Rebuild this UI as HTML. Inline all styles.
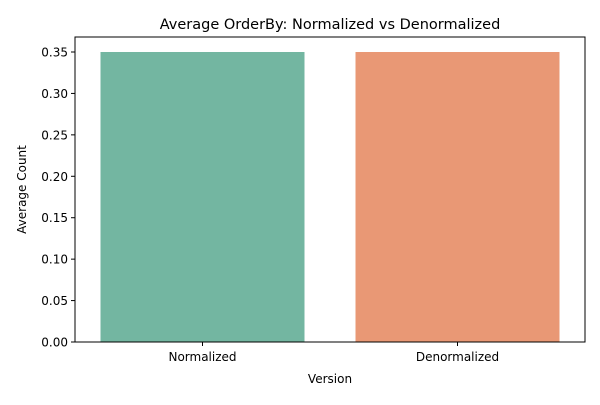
<!DOCTYPE html>
<html><head><meta charset="utf-8"><style>
body{margin:0;background:#fff;font-family:"Liberation Sans","DejaVu Sans",sans-serif;}
</style></head><body>
<svg id="chart" width="600" height="400" xmlns="http://www.w3.org/2000/svg" font-family="DejaVu Sans, Liberation Sans, sans-serif"></svg>
<script>
const categories = ["Normalized", "Denormalized"];
const values = [0.35, 0.35];
const colors = ["#73b6a1", "#e99875"];
const yTicks = [0, 0.05, 0.10, 0.15, 0.20, 0.25, 0.30, 0.35];
const yTickLabels = ["0.00","0.05","0.10","0.15","0.20","0.25","0.30","0.35"];

const svg = document.getElementById('chart');
const NS = "http://www.w3.org/2000/svg";
const L = 75, R = 585, T = 37, B = 342;
const y = v => B - v / 0.35 * 290;
const band = (R - L) / categories.length;
const x = i => L + band * i;
function mk(tag, attrs, text) {
  const e = document.createElementNS(NS, tag);
  for (const k in attrs) e.setAttribute(k, attrs[k]);
  if (text !== undefined) e.textContent = text;
  svg.appendChild(e);
  return e;
}
values.forEach((v, i) => {
  const r = mk('rect', {x: x(i) + band * 0.1, y: y(v), width: band * 0.8, height: B - y(v), fill: colors[i]});
  
  
  const t = mk('line', {x1: x(i) + band / 2, x2: x(i) + band / 2, y1: B, y2: B + 4, stroke: '#000'});
  
  
  const l = mk('text', {x: x(i) + band / 2, y: B + 19, 'text-anchor': 'middle', 'font-size': 12}, categories[i]);
  
  
});
yTicks.forEach((v, i) => {
  const t = mk('line', {x1: L - 4, x2: L, y1: y(v), y2: y(v), stroke: '#000'});
  
  
  const l = mk('text', {x: L - 7, y: y(v) + 4.5, 'text-anchor': 'end', 'font-size': 12}, yTickLabels[i]);
  
  
});
const frame = mk('rect', {x: L, y: T, width: R - L, height: B - T, fill: 'none', stroke: '#000', 'stroke-width': 1});


const title = mk('text', {x: (L + R) / 2, y: 29, 'text-anchor': 'middle', 'font-size': 14.5}, 'Average OrderBy: Normalized vs Denormalized');


const xt = mk('text', {x: (L + R) / 2, y: 383, 'text-anchor': 'middle', 'font-size': 12}, 'Version');


const yt = mk('text', {x: 0, y: 0, 'text-anchor': 'middle', 'font-size': 12, transform: 'translate(26,' + (T + B) / 2 + ') rotate(-90)'}, 'Average Count');


</script>
</body></html>
